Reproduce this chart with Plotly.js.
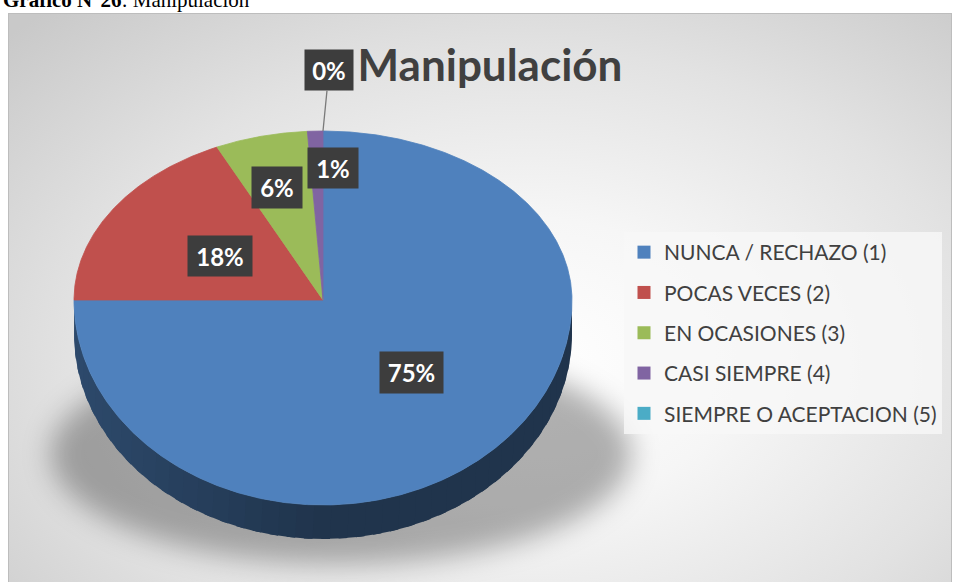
<!DOCTYPE html>
<html>
<head>
<meta charset="utf-8">
<script src="https://cdn.plot.ly/plotly-3.0.1.min.js"></script>
<style>
  html, body { margin: 0; padding: 0; width: 956px; height: 582px; overflow: hidden; background: #ffffff; }
  #frame { position: absolute; left: 8px; top: 13px; width: 942px; height: 600px;
           border: 1px solid #bdbdbd; overflow: hidden;
           background: radial-gradient(ellipse 75% 80% at 55% 58%, #ffffff 0%, #f6f6f6 30%, #e2e2e2 65%, #c9c9c9 100%); }
  #shadow { position: absolute; left: 42px; top: 330px; width: 580px; height: 220px;
            border-radius: 50%; background: rgba(0,0,0,0.30); filter: blur(14px); }
  #chart { position: absolute; left: 0; top: 0; width: 956px; height: 582px; }
</style>
</head>
<body>
<div id="frame"><div id="shadow"></div></div>
<div id="chart"></div>
<script>
// ---- data ----
const categories = ['NUNCA / RECHAZO (1)', 'POCAS VECES (2)', 'EN OCASIONES (3)', 'CASI SIEMPRE (4)', 'SIEMPRE O ACEPTACION (5)'];
const values = [75, 18, 6, 1, 0];
const chartTitle = 'Manipulación';
const caption = '<b>Gráfico N°26</b>: Manipulación';

// ---- style ----
const colors = ['#4F81BD', '#C0504D', '#9BBB59', '#8064A2', '#4BACC6'];
const cx = 323, cy = 300, rx = 249, ryTop = 169, ryBot = 205, depth = 34;
const labelRadius = [0.5, 0.49, 0.69, 0.78, 1.36];
const labelShiftX = [0, 0, -3, 16, 6];
const labelSize = [{w:63,h:41},{w:64,h:40},{w:50,h:41},{w:50,h:40},{w:48,h:40}];

function pt(deg, scale, dy) {
  const t = deg * Math.PI / 180, c = Math.cos(t);
  return [cx + rx * scale * Math.sin(t), cy - (c >= 0 ? ryTop : ryBot) * scale * c + (dy || 0)];
}
function hex(c) { return [parseInt(c.slice(1,3),16), parseInt(c.slice(3,5),16), parseInt(c.slice(5,7),16)]; }
function shade(c, f) { const h = hex(c); return 'rgb(' + h.map(v => Math.round(v * f)).join(',') + ')'; }

const total = values.reduce((a, b) => a + b, 0);
const sideTraces = [], topTraces = [], legendTraces = [], annotations = [];
let cum = 0;
values.forEach((v, i) => {
  const a0 = 360 * cum / total, a1 = 360 * (cum + v) / total;
  cum += v;
  // side wall (front half only), shaded in overlapping strips
  const s = Math.max(a0, 90), e = Math.min(a1, 270);
  if (s < e) {
    const step = 4;
    for (let a = s; a < e; a += step) {
      const b = Math.min(a + step * 1.6, e);
      const xs = [], ys = [];
      for (let t = a; t <= b + 1e-9; t += 0.5) { const p = pt(t, 1, 0); xs.push(p[0]); ys.push(p[1]); }
      for (let t = b; t >= a - 1e-9; t -= 0.5) { const p = pt(t, 1, depth); xs.push(p[0]); ys.push(p[1]); }
      const mid = (a + step / 2) * Math.PI / 180;
      const f = 0.40 + 0.17 * Math.max(0, -Math.sin(mid));
      const col = shade(colors[i], f);
      sideTraces.push({ type: 'scatter', mode: 'lines', x: xs, y: ys, fill: 'toself', fillcolor: col,
        line: { width: 0 }, hoverinfo: 'skip', showlegend: false });
    }
  }
  // top face
  if (v > 0) {
    const xs = [cx], ys = [cy];
    for (let t = a0; t <= a1 + 1e-9; t += 0.25) { const p = pt(t, 1, 0); xs.push(p[0]); ys.push(p[1]); }
    const pe = pt(a1, 1, 0); xs.push(pe[0]); ys.push(pe[1]);
    xs.push(cx); ys.push(cy);
    topTraces.push({ type: 'scatter', mode: 'lines', x: xs, y: ys, fill: 'toself', fillcolor: colors[i],
      line: { color: colors[i], width: 0.8 }, hoverinfo: 'skip', showlegend: false, name: categories[i] });
  }
  // legend entry
  legendTraces.push({ type: 'scatter', mode: 'markers', x: [null], y: [null], name: categories[i],
    legendgroup: 'g' + i, marker: { symbol: 'square', size: 13, color: colors[i] }, hoverinfo: 'skip' });
  // data label
  const midA = (a0 + a1) / 2;
  const pct = Math.round(v / total * 100) + '%';
  const lp = pt(midA, labelRadius[i], 0);
  const ann = { xref: 'x', yref: 'y', text: '<b>' + pct + '</b>',
    font: { family: 'Lato, "Open Sans", sans-serif', size: 24, color: '#ffffff' },
    bgcolor: '#3d3d3d', borderpad: 0, width: labelSize[i].w, height: labelSize[i].h,
    xanchor: 'center', yanchor: 'middle', valign: 'middle' };
  if (labelRadius[i] > 1) {
    const edge = pt(midA, 1, 0);
    Object.assign(ann, { x: edge[0], y: edge[1], showarrow: true, arrowhead: 0, arrowwidth: 1.3,
      arrowcolor: '#7a7a7a', ax: lp[0] + labelShiftX[i] - edge[0], ay: lp[1] - edge[1] });
  } else {
    Object.assign(ann, { x: lp[0] + labelShiftX[i], y: lp[1], showarrow: false });
  }
  annotations.push(ann);
});

annotations.push({ xref: 'x', yref: 'y', x: 1, y: 14, xanchor: 'left', yanchor: 'bottom', showarrow: false,
  text: caption, font: { family: '"Liberation Serif", "Times New Roman", serif', size: 21, color: '#000000' } });

const layout = {
  width: 956, height: 582,
  margin: { l: 0, r: 0, t: 0, b: 0 },
  paper_bgcolor: 'rgba(0,0,0,0)', plot_bgcolor: 'rgba(0,0,0,0)',
  xaxis: { range: [0, 956], visible: false, fixedrange: true },
  yaxis: { range: [582, 0], visible: false, fixedrange: true },
  title: { text: '<b>' + chartTitle + '</b>', x: 490 / 956, xanchor: 'center', y: 1 - 66 / 582, yanchor: 'middle',
    font: { family: 'Lato, "Open Sans", sans-serif', size: 44, color: '#404040' } },
  showlegend: true,
  legend: { x: 624 / 956, y: 1 - 232 / 582, xanchor: 'left', yanchor: 'top', bgcolor: 'rgba(248,248,248,0.8)',
    font: { family: 'Lato, "Open Sans", sans-serif', size: 21, color: '#404040' },
    traceorder: 'grouped', tracegroupgap: 10, itemclick: false, itemdoubleclick: false },
  annotations: annotations,
  hovermode: false
};

Plotly.newPlot('chart', sideTraces.concat(topTraces, legendTraces), layout, { staticPlot: true, displayModeBar: false });
</script>
</body>
</html>
